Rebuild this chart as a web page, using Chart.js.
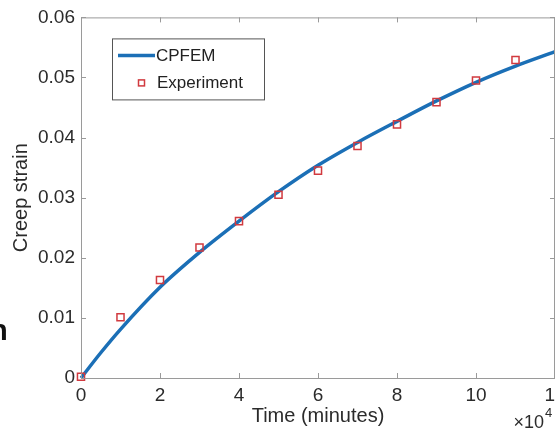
<!DOCTYPE html>
<html>
<head>
<meta charset="utf-8">
<script src="https://cdn.jsdelivr.net/npm/chart.js@4.4.1/dist/chart.umd.min.js"></script>
<style>
    html, body { margin: 0; padding: 0; background: #fff; overflow: hidden; }
    #wrap { position: absolute; left: 0; top: 0; width: 555px; height: 430px; overflow: hidden; }
    #creepChart { position: absolute; left: 0; top: 0; }
    #stray { position: absolute; left: -10px; top: 314px; font: bold 29px "Liberation Sans", Arial, sans-serif; color: #111; }
</style>
</head>
<body>
<div id="wrap">
    <canvas id="creepChart" width="600" height="430"></canvas>
    <span id="stray">n</span>
</div>
<script>
// time in units of 10^4 minutes
const curveTime = [0, 0.5, 1, 2, 3, 4, 5, 6, 7, 8, 9, 10, 11, 12];
const curveStrain = [0, 0.0042, 0.0081, 0.0151, 0.0209, 0.0261, 0.0310, 0.0354, 0.0392, 0.0427, 0.0461, 0.0492, 0.0519, 0.0543];

const expTime = [0, 1, 2, 3, 4, 5, 6, 7, 8, 9, 10, 11];
const expStrain = [0.0002, 0.0101, 0.0163, 0.0217, 0.0261, 0.0305, 0.0345, 0.0386, 0.0422, 0.0459, 0.0495, 0.0529];

const xTicks = [0, 2, 4, 6, 8, 10, 12];
const yTicks = [0, 0.01, 0.02, 0.03, 0.04, 0.05, 0.06];

const seriesNames = ['CPFEM', 'Experiment'];

const FONT = '"Liberation Sans", Arial, Helvetica, sans-serif';
const AXIS_COLOR = '#9a9a9a';
const TEXT_COLOR = '#2b2b2b';
const LINE_BLUE = '#1b6fb6';
const MARK_RED = '#d13a3f';

function toPoints(xs, ys) {
    return xs.map((x, i) => ({ x: x, y: ys[i] }));
}

// inward ticks on all four sides, plus the top and right box lines
const boxTicks = {
    id: 'boxTicks',
    afterDraw(chart) {
        const { ctx, chartArea: a, scales } = chart;
        const len = 5;
        ctx.save();
        ctx.strokeStyle = AXIS_COLOR;
        ctx.lineWidth = 1;
        ctx.beginPath();
        ctx.moveTo(a.left, a.top + 0.5);
        ctx.lineTo(a.right, a.top + 0.5);
        ctx.moveTo(a.right - 0.5, a.top);
        ctx.lineTo(a.right - 0.5, a.bottom);
        xTicks.forEach(v => {
            const px = Math.round(scales.x.getPixelForValue(v)) + 0.5;
            ctx.moveTo(px, a.bottom);
            ctx.lineTo(px, a.bottom - len);
            ctx.moveTo(px, a.top);
            ctx.lineTo(px, a.top + len);
        });
        yTicks.forEach(v => {
            const py = Math.round(scales.y.getPixelForValue(v)) + 0.5;
            ctx.moveTo(a.left, py);
            ctx.lineTo(a.left + len, py);
            ctx.moveTo(a.right, py);
            ctx.lineTo(a.right - len, py);
        });
        ctx.stroke();

        // x10^4 exponent label
        ctx.fillStyle = TEXT_COLOR;
        ctx.textBaseline = 'alphabetic';
        ctx.textAlign = 'right';
        ctx.font = '18px ' + FONT;
        ctx.fillText('\u00d710', a.right - 11, 428);
        ctx.textAlign = 'left';
        ctx.font = '13px ' + FONT;
        ctx.fillText('4', a.right - 10, 417);
        ctx.restore();
    }
};

// legend box in the upper left of the axes
const boxLegend = {
    id: 'boxLegend',
    afterDraw(chart) {
        const { ctx, chartArea: a } = chart;
        const x0 = a.left + 31, y0 = a.top + 21, w = 152, h = 61;
        ctx.save();
        ctx.fillStyle = '#fff';
        ctx.fillRect(x0, y0, w, h);
        ctx.strokeStyle = '#555';
        ctx.lineWidth = 1;
        ctx.strokeRect(x0 + 0.5, y0 + 0.5, w, h);

        ctx.strokeStyle = LINE_BLUE;
        ctx.lineWidth = 3.5;
        ctx.beginPath();
        ctx.moveTo(x0 + 6, y0 + 17);
        ctx.lineTo(x0 + 43, y0 + 17);
        ctx.stroke();

        ctx.strokeStyle = MARK_RED;
        ctx.lineWidth = 1.5;
        ctx.strokeRect(x0 + 26.5, y0 + 41.5, 6, 6);

        ctx.fillStyle = '#222';
        ctx.font = '17px ' + FONT;
        ctx.textBaseline = 'middle';
        ctx.textAlign = 'left';
        ctx.fillText(seriesNames[0], x0 + 44, y0 + 18);
        ctx.fillText(seriesNames[1], x0 + 45, y0 + 45);
        ctx.restore();
    }
};

const ctx = document.getElementById('creepChart').getContext('2d');
new Chart(ctx, {
    type: 'scatter',
    data: {
        datasets: [{
            label: seriesNames[1],
            data: toPoints(expTime, expStrain),
            showLine: false,
            pointStyle: 'rect',
            pointRadius: 5,
            pointBorderWidth: 1.5,
            pointBorderColor: MARK_RED,
            pointBackgroundColor: 'rgba(0,0,0,0)',
            clip: false,
            order: 0
        }, {
            label: seriesNames[0],
            type: 'line',
            data: toPoints(curveTime, curveStrain),
            showLine: true,
            borderColor: LINE_BLUE,
            borderWidth: 3.5,
            pointRadius: 0,
            cubicInterpolationMode: 'monotone',
            fill: false,
            clip: false,
            order: 1
        }]
    },
    options: {
        responsive: false,
        animation: false,
        layout: { padding: { left: 0, top: 15, right: 45, bottom: 0 } },
        plugins: {
            legend: { display: false },
            tooltip: { enabled: false }
        },
        scales: {
            x: {
                type: 'linear',
                min: 0,
                max: 12,
                afterBuildTicks: scale => { scale.ticks = xTicks.map(v => ({ value: v })); },
                afterFit: scale => { scale.height = 52; },
                grid: { drawOnChartArea: false, drawTicks: false },
                border: { display: true, color: AXIS_COLOR, width: 1 },
                ticks: { padding: 6, color: TEXT_COLOR, font: { family: FONT, size: 19 } },
                title: {
                    display: true,
                    text: 'Time (minutes)',
                    color: TEXT_COLOR,
                    font: { family: FONT, size: 20 },
                    padding: { top: 0, bottom: 2 }
                }
            },
            y: {
                type: 'linear',
                min: 0,
                max: 0.06,
                afterBuildTicks: scale => { scale.ticks = yTicks.map(v => ({ value: v })); },
                afterFit: scale => { scale.width = 81; },
                grid: { drawOnChartArea: false, drawTicks: false },
                border: { display: true, color: AXIS_COLOR, width: 1 },
                ticks: {
                    padding: 6,
                    color: TEXT_COLOR,
                    font: { family: FONT, size: 19 },
                    callback: v => String(Math.round(v * 100) / 100)
                },
                title: {
                    display: true,
                    text: 'Creep strain',
                    color: TEXT_COLOR,
                    font: { family: FONT, size: 20 },
                    padding: { top: 9, bottom: 0 }
                }
            }
        }
    },
    plugins: [boxTicks, boxLegend]
});
</script>
</body>
</html>
